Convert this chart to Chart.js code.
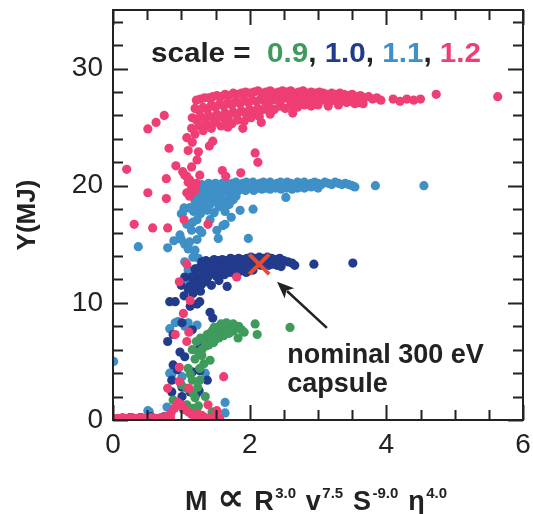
<!DOCTYPE html>
<html><head><meta charset="utf-8">
<script src="https://cdn.jsdelivr.net/npm/chart.js@4/dist/chart.umd.min.js"></script>
<style>html,body{margin:0;padding:0;background:#fff}canvas{display:block}</style>
</head><body>
<canvas id="c" width="533" height="514"></canvas>
<script>
// ---- data ----
const xTickLabels = [0, 2, 4, 6];
const yTickLabels = [0, 10, 20, 30];
const seriesNames = ['0.9', '1.0', '1.1', '1.2'];

const scale12 = [ // pink
 [1.22,27.3],[1.28,27.4],[1.34,27.5],[1.4,27.5],[1.46,27.6],[1.52,27.7],[1.58,27.6],[1.64,27.8],[1.7,27.7],[1.76,27.9],[1.82,27.8],[1.88,27.9],[1.94,28.0],[2.0,27.9],[2.06,28.0],[2.12,28.1],[2.18,27.9],[2.24,28.0],[2.3,28.1],[2.36,27.9],[2.42,28.0],[2.48,28.1],[2.54,28.0],[2.6,28.1],[2.66,27.9],[2.72,28.0],[2.78,28.1],[2.84,27.9],[2.9,28.0],[2.96,27.9],[3.02,28.0],[3.08,27.9],[3.14,27.8],[3.2,27.9],[3.26,27.8],[3.32,27.9],[3.38,27.8],[3.44,27.7],[3.5,27.8],[3.56,27.6],[3.62,27.7],[3.68,27.5],[3.74,27.6],[3.8,27.4],[3.86,27.5],[3.92,27.3],
 [1.2,26.6],[1.26,26.4],[1.32,26.7],[1.38,26.5],[1.44,26.9],[1.5,26.7],[1.56,27.0],[1.62,26.8],[1.68,27.1],[1.74,26.9],[1.8,27.2],[1.86,27.0],[1.92,27.3],[1.98,27.1],[2.04,27.3],[2.1,27.2],[2.16,27.4],[2.22,27.2],[2.28,27.4],[2.34,27.3],[2.4,27.5],[2.46,27.3],[2.52,27.5],[2.58,27.4],[2.64,27.5],[2.7,27.3],[2.76,27.5],[2.82,27.4],[2.88,27.5],[2.94,27.3],[3.0,27.4],[3.06,27.3],[3.12,27.4],[3.18,27.2],[3.24,27.3],[3.3,27.2],[3.36,27.3],[3.42,27.1],[3.48,27.2],[3.54,27.0],[3.6,27.1],[3.66,27.0],
 [1.16,25.8],[1.22,25.6],[1.28,25.9],[1.34,25.7],[1.4,26.0],[1.46,25.8],[1.52,26.1],[1.58,25.9],[1.64,26.2],[1.7,26.0],[1.76,26.3],[1.82,26.1],[1.88,26.4],[1.94,26.2],[2.0,26.5],[2.06,26.3],[2.12,26.6],[2.2,26.5],[2.28,26.7],[2.36,26.5],[2.44,26.8],[2.52,26.6],[2.6,26.9],[2.7,26.7],[2.8,26.9],[2.9,26.8],[3.0,26.9],[3.15,26.8],[3.3,26.9],
 [1.15,24.9],[1.2,24.4],[1.26,25.1],[1.32,24.7],[1.38,25.2],[1.44,24.9],[1.5,25.4],[1.58,25.1],[1.66,25.5],[1.74,25.3],[1.82,25.6],[1.92,25.5],[2.02,25.8],[2.14,25.9],[2.3,26.1],
 [4.1,27.4],[4.2,27.2],[4.3,27.4],[4.4,27.3],[4.5,27.4],[4.73,27.8],[5.63,27.6],
 [0.2,21.4],[0.51,24.85],[0.63,25.4],[0.75,26.0],[0.82,23.2],[0.92,21.7],[0.78,20.6],[1.08,24.1],[1.1,23.0],[1.16,23.7],[1.25,22.9],[1.23,22.2],[1.15,21.6],[1.08,20.8],[1.12,20.5],[1.27,20.9],
 [1.41,23.4],[1.46,23.8],[1.6,21.3],[1.65,20.8],[1.87,21.1],[2.08,22.8],[2.12,22.0],[1.9,24.9],[1.68,25.0],[2.17,25.4],[2.63,26.2],
 [1.05,20.9],[1.1,20.3],[1.15,19.8],[1.2,19.6],[1.08,19.4],[1.12,19.1],[1.22,20.2],[1.02,21.2],
 [0.51,19.4],[0.78,18.9],[0.31,16.7],[0.58,16.4],[0.8,16.4],[1.04,17.1],[1.39,16.7],[1.08,13.3],[1.81,12.2],
 [0.97,11.8],[1.13,10.2],[1.03,9.1],[1.11,7.5],[1.08,6.7],[0.91,7.3],[0.97,4.5],[0.97,3.3],[0.8,2.7],[1.11,2.7],[1.62,3.7],[1.39,1.3],[1.52,0.8],
 [0.9,1.0],[0.95,1.5],[1.0,1.3],[1.05,0.9],[1.1,0.7],[0.85,0.6],[1.15,0.5],[1.25,0.5],[1.3,0.4],
 [0.0,0.15],[0.07,0.15],[0.14,0.2],[0.21,0.15],[0.28,0.2],[0.35,0.15],[0.42,0.2],[0.49,0.15],[0.56,0.2],[0.63,0.15],[0.7,0.2],[0.77,0.3],[0.84,0.2],[1.2,0.2],[1.35,0.2],[1.42,0.15],[1.49,0.2],[1.56,0.15]
];

const scale11 = [ // light blue
 [1.25,20.0],[1.3,20.1],[1.35,20.0],[1.4,20.2],[1.45,20.1],[1.5,20.2],[1.55,20.1],[1.6,20.2],[1.65,20.3],[1.7,20.1],[1.75,20.2],[1.8,20.3],[1.85,20.1],[1.9,20.2],[1.95,20.3],[2.0,20.2],[2.05,20.3],[2.1,20.1],[2.15,20.2],[2.2,20.3],[2.25,20.2],[2.3,20.3],[2.35,20.1],[2.4,20.2],[2.45,20.3],[2.5,20.2],[2.55,20.3],[2.6,20.2],[2.65,20.1],[2.7,20.3],[2.75,20.2],[2.8,20.3],[2.85,20.1],[2.9,20.2],[2.95,20.3],[3.0,20.2],[3.05,20.1],[3.1,20.3],[3.15,20.2],[3.2,20.1],[3.25,20.3],[3.3,20.2],[3.35,20.1],[3.4,20.2],[3.45,20.1],[3.5,20.0],[3.54,19.9],
 [1.22,19.3],[1.28,19.4],[1.34,19.2],[1.4,19.5],[1.46,19.3],[1.52,19.6],[1.58,19.4],[1.64,19.6],[1.7,19.5],[1.76,19.7],[1.82,19.5],[1.88,19.7],[1.94,19.6],[2.0,19.8],[2.06,19.6],[2.12,19.8],[2.18,19.7],[2.24,19.8],[2.3,19.7],[2.38,19.8],[2.46,19.7],[2.54,19.8],[2.62,19.7],[2.7,19.8],[2.8,19.8],[2.9,19.9],[3.0,19.8],
 [1.2,18.7],[1.26,18.5],[1.32,18.8],[1.38,18.6],[1.44,18.9],[1.5,18.7],[1.56,19.0],[1.62,18.8],[1.7,19.0],[1.8,19.1],
 [3.84,20.0],[4.55,20.0],
 [1.22,18.9],[1.25,18.3],[1.18,17.8],[1.28,17.6],[1.32,18.2],[1.38,17.9],[1.42,18.4],[1.48,17.7],[1.55,18.2],[1.62,18.5],[1.7,18.4],[1.12,18.1],[1.04,18.1],[1.0,17.6],
 [2.53,19.0],[2.05,18.0],[1.86,17.9],[1.76,18.8],[1.73,17.3],[1.64,17.8],
 [0.37,14.8],[0.89,15.3],[0.8,14.7],[0.98,15.8],[1.0,15.4],[1.05,15.0],[1.1,14.6],[1.08,16.7],[1.17,16.9],[1.02,17.7],[1.13,18.1],[1.23,17.1],[1.27,16.2],[1.23,15.4],[1.2,14.5],[1.17,13.9],[1.05,13.5],[1.3,16.0],[1.42,17.1],[1.52,16.2],[1.64,16.7],[1.54,15.5],[1.61,16.6],[1.98,15.5],[1.15,16.2],[1.12,15.2],[1.25,13.8],
 [1.1,12.8],[1.2,12.2],[1.36,12.0],[1.12,11.9],[1.28,13.0],
 [0.01,5.0],[0.95,8.4],[1.1,8.3],[1.05,8.0],[1.23,8.1],[0.83,7.8],[1.42,7.4],[0.86,3.9],[1.01,3.7],[1.35,4.0],[0.51,0.8],[1.64,1.5],[1.64,0.6],[0.91,8.3],[1.26,4.3],[0.83,4.0],[0.79,1.1],[0.53,0.7]
];

const scale10 = [ // dark blue
 [1.3,13.5],[1.36,13.6],[1.42,13.5],[1.48,13.7],[1.54,13.6],[1.6,13.7],[1.66,13.6],[1.72,13.8],[1.78,13.7],[1.84,13.8],[1.9,13.7],[1.96,13.8],[2.02,13.9],[2.08,13.8],[2.14,13.9],[2.2,13.8],[2.26,13.9],[2.32,13.8],[2.38,13.7],[2.44,13.8],[2.5,13.6],[2.56,13.5],[2.62,13.4],[2.66,13.2],
 [1.2,12.9],[1.26,13.0],[1.32,12.8],[1.38,13.0],[1.44,12.9],[1.5,13.1],[1.56,12.9],[1.62,13.1],[1.68,13.0],[1.74,13.2],[1.8,13.1],[1.86,13.2],[1.92,13.1],[1.98,13.3],[2.04,13.2],[2.1,13.3],[2.16,13.2],[2.22,13.3],[2.28,13.2],[2.34,13.3],[2.4,13.2],[2.46,13.1],
 [1.15,12.2],[1.21,12.4],[1.27,12.1],[1.33,12.4],[1.39,12.2],[1.45,12.5],[1.51,12.3],[1.57,12.6],[1.63,12.4],[1.7,12.6],[1.78,12.5],[1.86,12.7],[1.95,12.6],[2.05,12.8],
 [1.12,11.4],[1.18,11.7],[1.24,11.3],[1.3,11.6],[1.36,11.8],[1.44,11.5],[1.55,11.9],[1.67,11.4],
 [1.0,11.5],[1.05,12.2],[1.1,11.2],[1.18,11.0],[1.28,11.0],
 [2.94,13.3],[3.51,13.4],
 [0.83,10.1],[0.91,10.1],[1.27,10.1],[1.42,9.2],[1.46,8.7],[1.13,9.7],[1.01,8.3],[1.16,7.7],[0.8,6.7],[0.88,7.3],[0.98,5.8],[1.05,5.4],[1.27,6.2],[1.27,5.7],[0.88,4.7],[0.94,4.3],[1.16,4.1],[0.86,3.4],[1.01,2.8],[0.86,2.4],[1.01,2.0],[1.13,2.4],[1.23,2.3],[1.27,4.2],[1.38,3.4],[1.26,2.5],[1.23,9.9],[1.17,10.8],[1.04,10.6],
 [0.25,0.2],[0.4,0.2],[0.55,0.3],[0.75,0.3]
];

const scale09 = [ // green
 [1.22,6.7],[1.28,7.0],[1.33,6.8],[1.38,7.3],[1.42,7.1],[1.45,7.6],[1.5,7.3],[1.53,7.9],[1.57,7.6],[1.6,8.0],[1.64,7.7],[1.68,8.1],[1.72,7.8],[1.76,8.2],[1.8,7.9],[1.84,8.0],[1.88,7.7],[1.92,7.5],[1.55,7.0],[1.47,6.6],[1.42,6.8],[1.35,6.3],[1.3,6.0],[1.25,5.8],[1.62,7.2],[1.83,7.0],
 [1.48,7.9],[1.58,8.2],[1.7,7.4],[1.76,7.6],[1.66,8.3],[1.4,6.4],[1.5,6.9],
 [2.08,8.2],[2.11,7.3],[2.59,7.9],
 [1.42,5.1],[1.16,6.0],[1.2,5.2],[1.27,4.4],[1.1,4.4],[1.27,3.4],[1.16,3.4],[1.08,2.7],[1.24,2.8],[1.17,2.3],[1.35,2.0],[0.88,1.7],[1.08,1.3],[1.17,1.0],[1.03,0.9],[1.2,1.9],[1.3,5.5],[1.33,4.8],[1.13,3.9],[1.0,3.0],[1.25,1.2],[1.45,0.7]
];

const nominal = [[2.14, 13.3]];
const arrowFromTo = [[3.13, 7.86], [2.4, 11.8]];
const annotationText = ['nominal 300 eV', 'capsule'];

const colors = {g:'#3f9b5c', d:'#233b8c', l:'#3e90c6', p:'#ee3e74', x:'#e94b30', k:'#222222'};
const FONT = "'Liberation Sans', Arial, Helvetica, sans-serif";

const toXY = a => a.map(p => ({x:p[0], y:p[1]}));

const frameTicks = {
  id:'frameTicks',
  afterDraw(chart){
    const {ctx, chartArea:a, scales:{x, y}} = chart;
    ctx.save();
    ctx.strokeStyle = colors.k; ctx.lineWidth = 2;
    ctx.strokeRect(a.left, a.top, a.right - a.left, a.bottom - a.top);
    for (let v = 0; v <= 6.001; v += 0.5) {
      const px = Math.round(x.getPixelForValue(v)) + 0.5;
      const len = xTickLabels.includes(v) ? 15 : 10;
      ctx.beginPath();
      ctx.moveTo(px, a.bottom); ctx.lineTo(px, a.bottom - len);
      ctx.moveTo(px, a.top); ctx.lineTo(px, a.top + len);
      ctx.stroke();
    }
    for (let v = 0; v <= 34; v += 2) {
      const py = Math.round(y.getPixelForValue(v)) + 0.5;
      const len = yTickLabels.includes(v) ? 15 : 10;
      ctx.beginPath();
      ctx.moveTo(a.left, py); ctx.lineTo(a.left + len, py);
      ctx.moveTo(a.right, py); ctx.lineTo(a.right - len, py);
      ctx.stroke();
    }
    // x axis title with superscripts
    const base = 'bold 27px ' + FONT, sup = 'bold 15px ' + FONT, sym = "bold 38px 'DejaVu Sans', sans-serif";
    const parts = [['M',base,0],['\u221D',sym,0],['R',base,0],['3.0',sup,1],['v',base,0],['7.5',sup,1],['S',base,0],['-9.0',sup,1],['\u03B7',base,0],['4.0',sup,1]];
    const by = 510, target = 262;
    let textW = 0, gaps = 0;
    parts.forEach((p, i) => { ctx.font = p[1]; textW += ctx.measureText(p[0]).width; if (i > 0) gaps += p[2] ? 0.15 : 1; });
    const g = Math.max(3, (target - textW) / gaps);
    let cx = 316 - target / 2;
    ctx.fillStyle = colors.k; ctx.textBaseline = 'alphabetic'; ctx.textAlign = 'left';
    parts.forEach((p, i) => {
      ctx.font = p[1];
      if (i > 0) cx += p[2] ? 0.15 * g : g;
      ctx.fillText(p[0], cx, p[2] ? by - 12 : by);
      cx += ctx.measureText(p[0]).width;
    });
    ctx.restore();
  },
  afterDatasetsDraw(chart){
    const {ctx, scales:{x, y}} = chart;
    ctx.save();
    // arrow
    const x0 = x.getPixelForValue(arrowFromTo[0][0]), y0 = y.getPixelForValue(arrowFromTo[0][1]);
    const x1 = x.getPixelForValue(arrowFromTo[1][0]), y1 = y.getPixelForValue(arrowFromTo[1][1]);
    const ang = Math.atan2(y1 - y0, x1 - x0);
    const hl = 17, hw = 7;
    ctx.strokeStyle = colors.k; ctx.fillStyle = colors.k; ctx.lineWidth = 2.5;
    ctx.beginPath(); ctx.moveTo(x0, y0);
    ctx.lineTo(x1 - Math.cos(ang) * hl * 0.8, y1 - Math.sin(ang) * hl * 0.8); ctx.stroke();
    ctx.beginPath();
    ctx.moveTo(x1, y1);
    ctx.lineTo(x1 - Math.cos(ang) * hl + Math.sin(ang) * hw, y1 - Math.sin(ang) * hl - Math.cos(ang) * hw);
    ctx.lineTo(x1 - Math.cos(ang) * hl * 0.75, y1 - Math.sin(ang) * hl * 0.75);
    ctx.lineTo(x1 - Math.cos(ang) * hl - Math.sin(ang) * hw, y1 - Math.sin(ang) * hl + Math.cos(ang) * hw);
    ctx.closePath(); ctx.fill();
    // annotation text
    ctx.font = 'bold 27px ' + FONT; ctx.textAlign = 'left'; ctx.textBaseline = 'alphabetic';
    ctx.fillText(annotationText[0], x.getPixelForValue(2.55), y.getPixelForValue(4.87));
    ctx.fillText(annotationText[1], x.getPixelForValue(2.55), y.getPixelForValue(2.39));
    // header legend, stretched to the figure's width
    ctx.font = 'bold 27px ' + FONT;
    const hdr = [['scale =  ', colors.k], [seriesNames[0], colors.g], [', ', colors.k], [seriesNames[1], colors.d], [', ', colors.k], [seriesNames[2], colors.l], [', ', colors.k], [seriesNames[3], colors.p]];
    const natural = hdr.reduce((s, h) => s + ctx.measureText(h[0]).width, 0);
    ctx.translate(x.getPixelForValue(0.556), y.getPixelForValue(30.57));
    ctx.scale(330 / natural, 1);
    let hx = 0;
    hdr.forEach(h => { ctx.fillStyle = h[1]; ctx.fillText(h[0], hx, 0); hx += ctx.measureText(h[0]).width; });
    ctx.restore();
  }
};

const ds = (label, data, color, order) => ({
  label, data: toXY(data), backgroundColor: color, borderWidth: 0, pointRadius: 4.6, pointHoverRadius: 4.6, order, clip: 0
});

new Chart(document.getElementById('c'), {
  type: 'scatter',
  data: { datasets: [
    {label:'nominal 300 eV capsule', data: toXY(nominal), pointStyle:'crossRot', pointRadius:14, borderWidth:4, borderColor: colors.x, backgroundColor: colors.x, order:0},
    ds('scale = 1.2', scale12, colors.p, 1),
    ds('scale = 0.9', scale09, colors.g, 2),
    ds('scale = 1.0', scale10, colors.d, 3),
    ds('scale = 1.1', scale11, colors.l, 4)
  ]},
  options: {
    responsive: false, animation: false, devicePixelRatio: 1,
    layout: { autoPadding: false, padding: { top: 10, right: 10, left: 0, bottom: 0 } },
    plugins: { legend: { display: false }, tooltip: { enabled: false } },
    scales: {
      x: {
        type: 'linear', min: 0, max: 6,
        grid: { display: false, drawTicks: false }, border: { display: false },
        afterBuildTicks: s => { s.ticks = xTickLabels.map(v => ({value: v})); },
        afterFit: s => { s.height = 94; s.paddingLeft = 0; s.paddingRight = 0; },
        ticks: { font: { family: FONT, size: 28 }, color: colors.k, padding: 8, maxRotation: 0 }
      },
      y: {
        type: 'linear', min: 0, max: 35,
        grid: { display: false, drawTicks: false }, border: { display: false },
        afterBuildTicks: s => { s.ticks = yTickLabels.map(v => ({value: v})); },
        afterFit: s => { s.width = 113; s.paddingTop = 0; s.paddingBottom = 0; },
        ticks: { font: { family: FONT, size: 28 }, color: colors.k, padding: 10 },
        title: { display: true, text: 'Y(MJ)', font: { family: FONT, size: 26, weight: 'bold' }, color: colors.k, padding: { top: 12, bottom: 0 } }
      }
    }
  },
  plugins: [frameTicks]
});
</script>
</body></html>
